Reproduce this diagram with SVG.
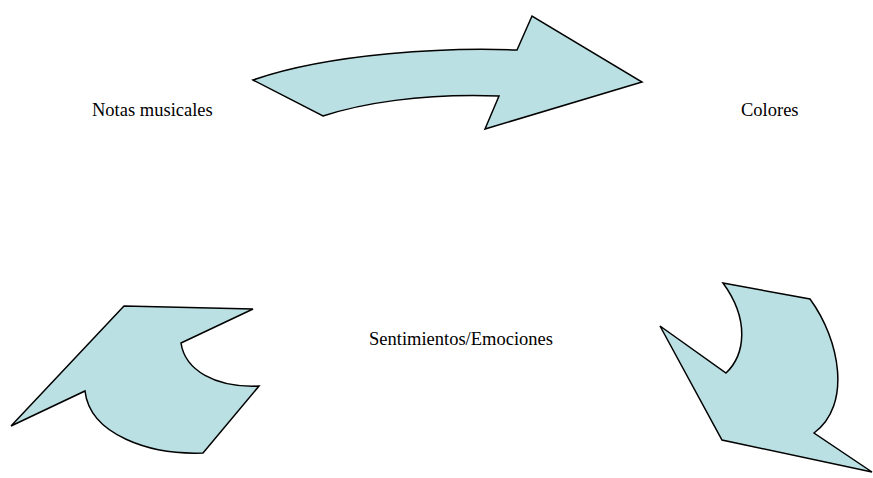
<svg xmlns="http://www.w3.org/2000/svg" width="873" height="478" viewBox="0 0 873 478">
<style>
.shape{fill:#bae0e3;stroke:#000;stroke-width:1.5;stroke-linejoin:miter}
.lbl{font-family:"Liberation Serif","Times New Roman",serif;font-size:18.5px;fill:#000}
</style>
<rect width="873" height="478" fill="#fff"/>
<g id="connectors">
<path id="arrow-top" class="shape" d="M253,80 L323,116 C360,104 420,93 499,96 L485,129 L642,82 L532,16 L517,50 C450,47 330,53 253,80 Z"/>
<path id="arrow-right" class="shape" d="M723,283 L810,299 C840,340 852,405 814,433 L872,472 L722,440 L660,326 L726,373 C745,355 750,320 723,283 Z"/>
<path id="arrow-left" class="shape" d="M124,306 L253,309 L181,343 C185,370 215,388 259,386 L203,453 C150,455 90,435 85,391 L11,426 Z"/>
</g>
<g id="node-notas"><text class="lbl" x="92" y="116">Notas musicales</text></g>
<g id="node-colores"><text class="lbl" x="741" y="116">Colores</text></g>
<g id="node-sentimientos"><text class="lbl" x="369" y="345">Sentimientos/Emociones</text></g>
</svg>
